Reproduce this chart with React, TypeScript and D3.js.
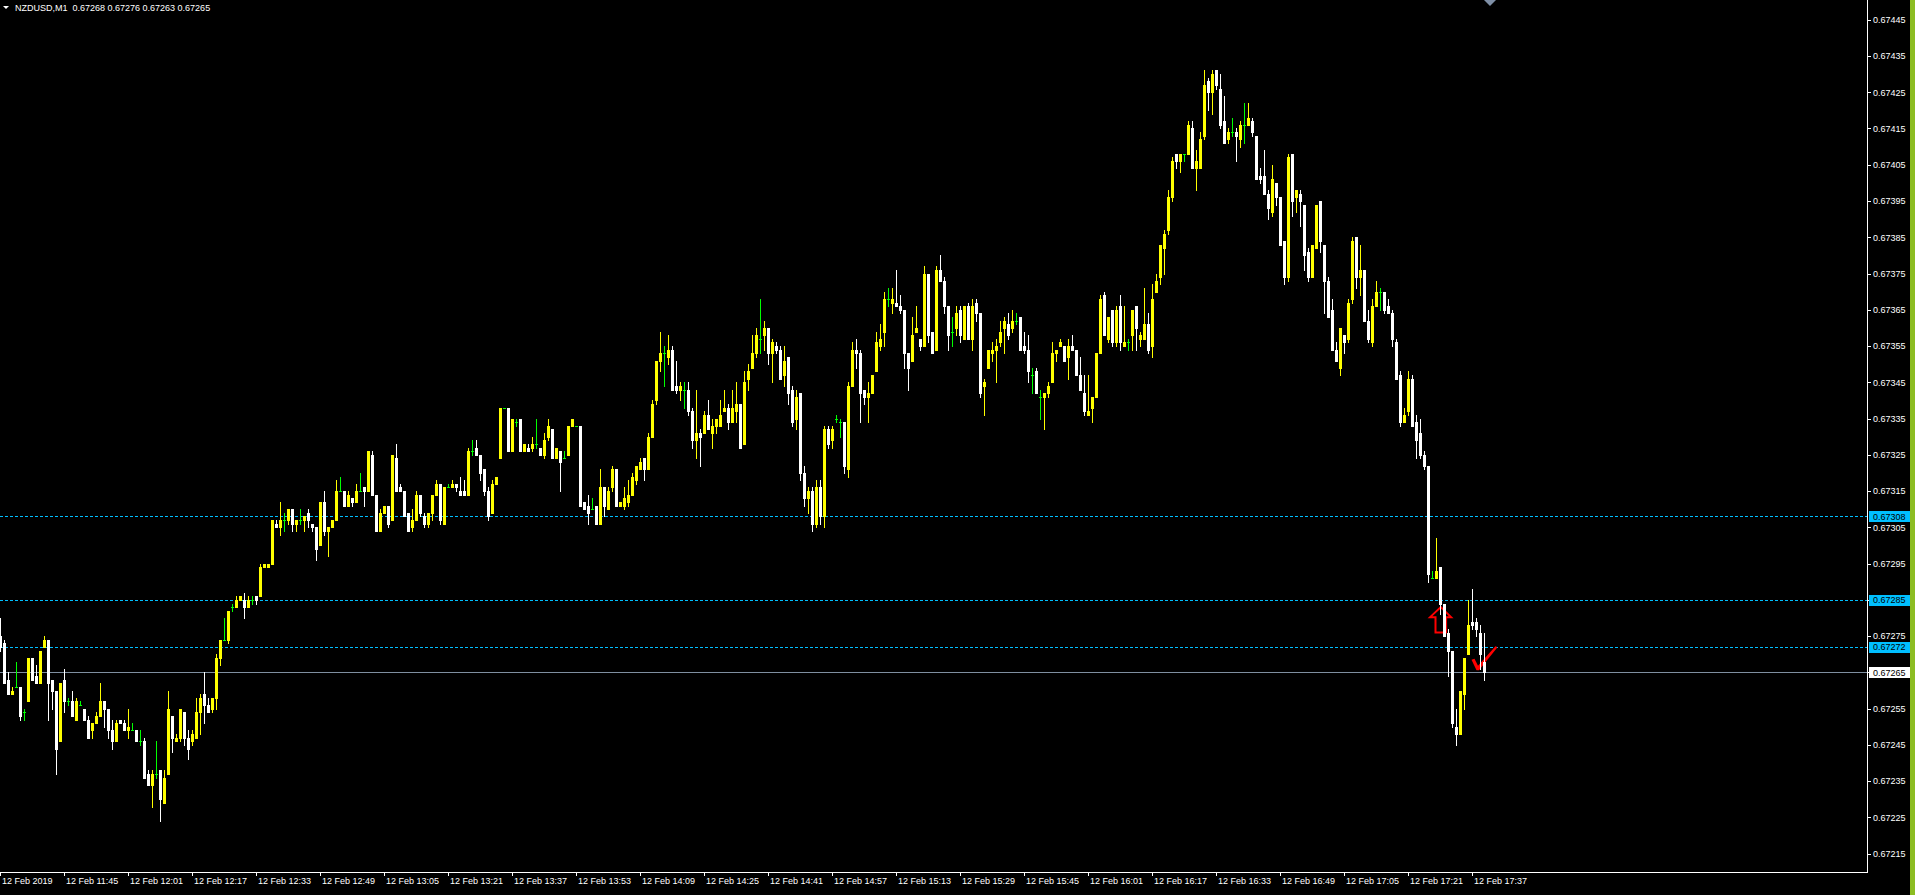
import React, { useEffect } from "react";
import * as d3 from "d3";

// ---------- data (prices in points, 1 point = 0.00001) ----------
const headerSymbol = "NZDUSD,M1";
const headerQuote = ["0.67268", "0.67276", "0.67263", "0.67265"];

// [open, high, low, close] for each M1 bar, 11:29 .. 17:40
const ohlc: [number, number, number, number][] = [
  [67275,67280,67271,67272],[67273,67274,67262,67262],[67263,67265,67259,67259],[67259,67261,67259,67260],
  [67261,67268,67261,67261],[67261,67261,67252,67253],[67254,67255,67252,67254],[67257,67269,67257,67269],
  [67269,67269,67263,67263],[67264,67267,67262,67262],[67262,67271,67262,67271],[67272,67275,67272,67274],
  [67274,67274,67252,67262],[67263,67263,67255,67260],[67260,67260,67237,67244],[67246,67262,67246,67262],
  [67263,67266,67254,67257],[67257,67258,67256,67257],[67257,67260,67253,67253],[67252,67258,67252,67257],
  [67256,67257,67256,67256],[67255,67255,67252,67252],[67252,67253,67247,67247],[67249,67251,67247,67251],
  [67251,67254,67251,67253],[67253,67262,67253,67257],[67257,67257,67250,67255],[67255,67255,67247,67249],
  [67249,67252,67244,67246],[67246,67252,67246,67251],[67252,67252,67251,67251],[67251,67252,67249,67249],
  [67249,67255,67247,67250],[67249,67251,67249,67249],[67249,67249,67246,67246],[67246,67249,67245,67246],
  [67246,67247,67236,67236],[67237,67238,67234,67234],[67234,67238,67228,67237],[67237,67246,67236,67237],
  [67238,67238,67224,67230],[67229,67238,67229,67236],[67237,67260,67237,67255],[67253,67253,67243,67247],
  [67246,67248,67246,67247],[67247,67255,67246,67255],[67254,67254,67245,67247],[67247,67249,67241,67244],
  [67246,67249,67245,67248],[67247,67258,67247,67254],[67254,67259,67248,67258],[67259,67265,67251,67256],
  [67256,67258,67254,67254],[67255,67258,67254,67258],[67258,67270,67255,67269],[67269,67274,67267,67274],
  [67274,67280,67274,67274],[67274,67282,67273,67282],[67283,67284,67282,67283],[67283,67286,67283,67285],
  [67285,67286,67285,67286],[67285,67287,67280,67283],[67283,67286,67283,67285],[67285,67286,67284,67285],
  [67286,67286,67284,67285],[67286,67295,67286,67294],[67294,67295,67294,67295],[67294,67295,67294,67295],
  [67295,67307,67295,67307],[67306,67307,67305,67305],[67305,67312,67303,67307],[67307,67309,67304,67307],
  [67307,67310,67306,67310],[67310,67310,67304,67306],[67306,67307,67304,67307],[67307,67310,67306,67307],
  [67307,67308,67304,67308],[67309,67310,67305,67307],[67306,67306,67304,67305],[67305,67305,67296,67299],
  [67300,67312,67300,67312],[67312,67315,67303,67304],[67304,67305,67297,67305],[67305,67307,67305,67307],
  [67307,67318,67307,67315],[67315,67319,67315,67315],[67315,67315,67311,67311],[67311,67315,67311,67314],
  [67313,67313,67311,67312],[67312,67317,67312,67315],[67315,67320,67315,67315],[67316,67316,67311,67315],
  [67315,67326,67315,67326],[67325,67326,67314,67314],[67314,67314,67304,67304],[67304,67310,67304,67309],
  [67309,67311,67309,67311],[67311,67311,67305,67306],[67307,67325,67307,67325],[67324,67328,67315,67315],
  [67316,67317,67315,67315],[67315,67315,67308,67308],[67309,67309,67304,67304],[67305,67310,67304,67307],
  [67307,67315,67307,67314],[67314,67314,67308,67309],[67308,67309,67305,67306],[67306,67309,67305,67309],
  [67309,67314,67307,67314],[67314,67318,67314,67317],[67317,67317,67306,67307],[67306,67316,67306,67316],
  [67316,67317,67316,67316],[67316,67318,67316,67317],[67317,67317,67315,67316],[67315,67319,67314,67314],
  [67315,67318,67314,67314],[67314,67327,67314,67326],[67326,67329,67325,67326],[67327,67329,67325,67325],
  [67325,67325,67318,67320],[67321,67321,67314,67315],[67315,67316,67307,67308],[67309,67318,67309,67317],
  [67317,67319,67317,67319],[67324,67338,67324,67338],[67338,67338,67338,67338],[67338,67338,67326,67326],
  [67326,67335,67326,67335],[67334,67335,67333,67334],[67335,67335,67326,67326],[67326,67328,67326,67328],
  [67327,67328,67326,67326],[67327,67330,67326,67328],[67328,67335,67327,67328],[67327,67327,67325,67325],
  [67325,67331,67324,67329],[67330,67335,67329,67333],[67332,67332,67324,67324],[67324,67327,67324,67327],
  [67326,67326,67315,67323],[67324,67326,67324,67324],[67325,67333,67325,67333],[67333,67335,67333,67335],
  [67333,67333,67333,67333],[67333,67333,67311,67311],[67312,67312,67310,67310],[67311,67314,67306,67309],
  [67310,67313,67310,67310],[67311,67311,67306,67306],[67306,67321,67306,67316],[67316,67316,67308,67311],
  [67310,67316,67310,67315],[67316,67322,67315,67321],[67321,67321,67311,67311],[67311,67312,67311,67312],
  [67311,67316,67310,67313],[67312,67318,67311,67314],[67314,67320,67314,67319],[67318,67322,67317,67322],
  [67321,67324,67321,67323],[67324,67324,67318,67321],[67321,67331,67321,67330],[67330,67340,67330,67339],
  [67340,67351,67339,67351],[67351,67359,67348,67353],[67353,67355,67344,67353],[67352,67358,67350,67354],
  [67354,67355,67343,67343],[67344,67351,67342,67343],[67343,67345,67340,67344],[67343,67345,67338,67343],
  [67343,67345,67336,67337],[67337,67338,67327,67329],[67329,67343,67324,67331],[67331,67332,67322,67330],
  [67331,67337,67331,67336],[67336,67340,67332,67332],[67331,67335,67327,67333],[67333,67335,67331,67335],
  [67333,67340,67333,67336],[67337,67343,67337,67338],[67338,67339,67332,67334],[67334,67343,67334,67338],
  [67337,67345,67334,67339],[67339,67339,67327,67327],[67328,67348,67328,67345],[67346,67350,67343,67348],
  [67349,67358,67349,67353],[67353,67360,67352,67358],[67357,67368,67353,67357],[67358,67362,67354,67360],
  [67360,67360,67350,67353],[67353,67357,67345,67356],[67355,67356,67353,67354],[67354,67355,67346,67346],
  [67347,67355,67344,67351],[67352,67352,67339,67342],[67343,67344,67333,67334],[67335,67343,67332,67341],
  [67342,67342,67318,67320],[67320,67322,67311,67313],[67313,67316,67309,67315],[67315,67316,67304,67306],
  [67306,67318,67305,67316],[67316,67318,67306,67308],[67308,67333,67305,67332],[67332,67333,67327,67328],
  [67329,67333,67327,67332],[67335,67336,67334,67335],[67334,67335,67330,67334],[67334,67334,67320,67322],
  [67321,67345,67319,67344],[67344,67356,67344,67354],[67354,67357,67349,67353],[67353,67354,67334,67342],
  [67343,67343,67339,67341],[67341,67345,67334,67342],[67342,67347,67342,67347],[67348,67359,67348,67356],
  [67355,67361,67354,67357],[67359,67370,67355,67368],[67368,67371,67366,67368],[67367,67371,67364,67368],
  [67367,67376,67366,67366],[67366,67369,67364,67365],[67365,67365,67349,67353],[67353,67353,67343,67349],
  [67351,67363,67351,67358],[67359,67366,67359,67360],[67357,67357,67354,67355],[67355,67377,67355,67375],
  [67375,67375,67356,67358],[67359,67359,67353,67353],[67354,67377,67354,67376],[67376,67380,67373,67373],
  [67373,67374,67364,67366],[67366,67366,67354,67358],[67359,67363,67355,67359],[67360,67366,67358,67364],
  [67365,67366,67356,67358],[67357,67366,67357,67366],[67366,67367,67357,67357],[67357,67368,67354,67366],
  [67367,67368,67362,67364],[67364,67364,67341,67342],[67344,67346,67336,67345],[67349,67354,67349,67354],
  [67353,67356,67351,67354],[67354,67357,67345,67355],[67356,67362,67355,67359],[67360,67363,67353,67362],
  [67361,67364,67357,67358],[67360,67365,67359,67362],[67362,67364,67361,67362],[67363,67363,67354,67354],
  [67355,67359,67353,67354],[67354,67358,67345,67348],[67347,67349,67342,67347],[67348,67349,67342,67342],
  [67341,67343,67335,67341],[67341,67342,67332,67342],[67342,67345,67341,67344],[67345,67356,67345,67353],
  [67353,67354,67351,67354],[67355,67357,67355,67356],[67355,67355,67351,67351],[67352,67357,67346,67355],
  [67355,67358,67354,67354],[67354,67354,67347,67347],[67347,67352,67343,67343],[67342,67347,67336,67337],
  [67336,67347,67336,67337],[67338,67341,67334,67341],[67341,67353,67341,67353],[67353,67369,67353,67368],
  [67369,67370,67358,67358],[67357,67363,67356,67363],[67365,67365,67355,67356],[67356,67366,67355,67365],
  [67366,67369,67354,67356],[67355,67366,67355,67356],[67356,67357,67354,67356],[67358,67365,67354,67365],
  [67366,67366,67354,67360],[67357,67359,67355,67358],[67357,67371,67357,67361],[67361,67364,67353,67354],
  [67355,67372,67352,67368],[67370,67375,67370,67373],[67374,67383,67372,67383],[67382,67387,67375,67386],
  [67387,67398,67386,67396],[67396,67407,67395,67406],[67408,67408,67404,67406],[67406,67408,67403,67408],
  [67408,67408,67406,67408],[67408,67417,67408,67416],[67415,67417,67404,67404],[67404,67409,67398,67406],
  [67404,67414,67404,67412],[67413,67431,67412,67427],[67428,67429,67420,67425],[67425,67431,67419,67430],
  [67431,67431,67426,67427],[67426,67430,67415,67416],[67417,67424,67411,67411],[67412,67415,67411,67414],
  [67414,67418,67413,67414],[67414,67415,67406,67413],[67412,67417,67410,67416],[67416,67422,67411,67416],
  [67416,67422,67416,67418],[67417,67418,67413,67414],[67413,67413,67401,67401],[67402,67404,67400,67401],
  [67402,67409,67397,67397],[67397,67398,67390,67393],[67392,67405,67391,67401],[67400,67400,67394,67396],
  [67396,67396,67383,67383],[67384,67384,67372,67374],[67374,67408,67373,67407],[67408,67408,67391,67395],
  [67396,67398,67392,67398],[67397,67398,67388,67395],[67394,67394,67376,67380],[67381,67382,67373,67374],
  [67374,67383,67374,67383],[67382,67394,67382,67394],[67395,67395,67381,67384],[67383,67383,67364,67373],
  [67373,67374,67363,67363],[67365,67368,67354,67354],[67354,67356,67351,67351],[67349,67360,67347,67360],
  [67358,67358,67353,67356],[67357,67368,67356,67367],[67368,67385,67367,67384],[67385,67385,67371,67374],
  [67374,67383,67369,67376],[67376,67376,67362,67362],[67362,67365,67356,67357],[67356,67368,67355,67366],
  [67366,67373,67366,67370],[67370,67371,67365,67370],[67370,67370,67364,67365],[67366,67368,67364,67364],
  [67364,67365,67355,67357],[67356,67357,67346,67346],[67347,67348,67333,67334],[67334,67338,67334,67336],
  [67337,67348,67336,67346],[67346,67347,67333,67333],[67334,67336,67324,67329],[67331,67335,67324,67325],
  [67325,67326,67321,67322],[67322,67322,67290,67292],[67291,67293,67291,67291],[67291,67302,67291,67293],
  [67294,67294,67281,67284],[67284,67284,67275,67275],[67276,67277,67264,67271],[67271,67271,67250,67251],
  [67250,67255,67245,67248],[67248,67260,67248,67260],[67259,67269,67255,67269],[67270,67285,67270,67278],
  [67279,67288,67277,67278],[67279,67280,67275,67277],[67276,67278,67266,67270],[67268,67276,67263,67265],
];

const priceTicks = [
  0.67445, 0.67435, 0.67425, 0.67415, 0.67405, 0.67395, 0.67385, 0.67375,
  0.67365, 0.67355, 0.67345, 0.67335, 0.67325, 0.67315, 0.67305, 0.67295,
  0.67285, 0.67275, 0.67265, 0.67255, 0.67245, 0.67235, 0.67225, 0.67215,
];

const timeLabels = [
  "12 Feb 2019", "12 Feb 11:45", "12 Feb 12:01", "12 Feb 12:17", "12 Feb 12:33", "12 Feb 12:49",
  "12 Feb 13:05", "12 Feb 13:21", "12 Feb 13:37", "12 Feb 13:53", "12 Feb 14:09", "12 Feb 14:25",
  "12 Feb 14:41", "12 Feb 14:57", "12 Feb 15:13", "12 Feb 15:29", "12 Feb 15:45", "12 Feb 16:01",
  "12 Feb 16:17", "12 Feb 16:33", "12 Feb 16:49", "12 Feb 17:05", "12 Feb 17:21", "12 Feb 17:37",
];
const barsPerLabel = 16;

const levelLines = [0.67308, 0.67285, 0.67272];
const bidPrice = 0.67265;

const buyArrow = { bar: 360.2, price: 0.67283 };
const closeMark = { bar: 369.5, price: 0.672657 };

// ---------- layout ----------
const W = 1915;
const H = 895;
const plotRight = 1867;
const plotBottom = 872;
const FONT = "'Liberation Sans', Arial, sans-serif";

const YELLOW = "#ffff00";
const WHITE = "#ffffff";
const GREEN = "#00ff00";
const LEVEL = "#00bfff";
const BID = "#7f8fa0";

export default function App() {
  useEffect(() => {
    document.body.style.margin = "0";
    document.body.style.background = "#000";
  }, []);

  const y = d3.scaleLinear().domain([0.67445, 0.67215]).range([19.7, 853.7]);
  const x = d3.scaleLinear().domain([0, ohlc.length - 1]).range([0, (ohlc.length - 1) * 4]);
  const fmt = d3.format(".5f");

  const candles = ohlc.map((b, i) => {
    const [o, h0, l0, c] = b.map((v) => v / 1e5);
    const h = Math.max(h0, o, c);
    const l = Math.min(l0, o, c);
    const cx = Math.round(x(i));
    const color = c > o ? YELLOW : c < o ? WHITE : GREEN;
    const yh = Math.round(y(h));
    const yl = Math.round(y(l));
    const top = Math.round(y(Math.max(o, c)));
    const bot = Math.round(y(Math.min(o, c)));
    return (
      <g key={i} fill={color}>
        <rect x={cx} y={yh} width={1} height={Math.max(1, yl - yh + 1)} />
        {c === o ? (
          <rect x={cx - 1} y={top} width={3} height={1} />
        ) : (
          <rect x={cx - 1} y={top} width={3} height={Math.max(1, bot - top + 1)} />
        )}
      </g>
    );
  });

  const ax = x(buyArrow.bar);
  const ay = y(buyArrow.price);
  const arrowPts = [
    [-5.3, 25.4], [-5.3, 10], [-10.7, 10], [0, 0], [10.3, 10], [5.3, 10], [5.3, 25.4],
  ].map(([dx, dy]) => `${ax + dx},${ay + dy}`).join(" ");

  const kx = x(closeMark.bar);
  const ky = y(closeMark.price);
  const checkPts = [
    [-6.5, -10], [-3.5, -11], [0, -4], [17.5, -23.5], [19.5, -22.5], [1, 0.5], [-1.5, 0.5],
  ].map(([dx, dy]) => `${kx + dx},${ky + dy}`).join(" ");

  const boxLabel = (p: number, fill: string, key: string) => {
    const yy = y(p);
    return (
      <g key={key}>
        <rect x={1869} y={Math.round(yy) - 5} width={41} height={11} fill={fill} />
        <text x={1873} y={yy + 3.3} fill="#000" fontSize={9} fontFamily={FONT}>
          {fmt(p)}
        </text>
      </g>
    );
  };

  return (
    <svg
      width={W}
      height={H}
      style={{ position: "absolute", left: 0, top: 0, background: "#000", display: "block" }}
    >
      <rect x={0} y={0} width={W} height={H} fill="#000" />

      {/* level lines */}
      {levelLines.map((p) => (
        <line
          key={p}
          x1={0}
          x2={plotRight}
          y1={Math.round(y(p)) + 0.5}
          y2={Math.round(y(p)) + 0.5}
          stroke={LEVEL}
          strokeWidth={1}
          strokeDasharray="3,2"
        />
      ))}
      <line
        x1={0}
        x2={plotRight}
        y1={Math.round(y(bidPrice)) + 0.5}
        y2={Math.round(y(bidPrice)) + 0.5}
        stroke={BID}
        strokeWidth={1}
      />

      {/* trade marks */}
      <polygon points={arrowPts} fill="none" stroke="#ff0000" strokeWidth={2} />
      <polygon points={checkPts} fill="#ff0000" />

      {/* candles */}
      <g shapeRendering="crispEdges">{candles}</g>

      {/* chart shift marker */}
      <polygon points="1484,0 1496,0 1490,6" fill="#7f8fa6" />

      {/* frame */}
      <g shapeRendering="crispEdges" stroke="#ffffff" strokeWidth={1}>
        <line x1={plotRight + 0.5} x2={plotRight + 0.5} y1={0} y2={plotBottom + 1} />
        <line x1={0} x2={plotRight + 1} y1={plotBottom + 0.5} y2={plotBottom + 0.5} />
      </g>

      {/* price axis */}
      {priceTicks.map((p) => (
        <g key={p}>
          <line
            x1={plotRight}
            x2={plotRight + 4}
            y1={Math.round(y(p)) + 0.5}
            y2={Math.round(y(p)) + 0.5}
            stroke="#fff"
            strokeWidth={1}
          />
          <text x={1873} y={y(p) + 3.3} fill="#fff" fontSize={9} fontFamily={FONT}>
            {fmt(p)}
          </text>
        </g>
      ))}
      {levelLines.map((p) => boxLabel(p, LEVEL, "lv" + p))}
      {boxLabel(bidPrice, "#ffffff", "bid")}

      {/* time axis */}
      {timeLabels.map((t, k) => {
        const xx = Math.round(x(k * barsPerLabel));
        return (
          <g key={t}>
            <line x1={xx + 0.5} x2={xx + 0.5} y1={plotBottom} y2={plotBottom + 4} stroke="#fff" />
            <text x={xx + 2} y={884} fill="#fff" fontSize={9} fontFamily={FONT}>
              {t}
            </text>
          </g>
        );
      })}

      {/* header */}
      <polygon points="3,6 9,6 6,9" fill="#fff" />
      <text x={15} y={10.5} fill="#fff" fontSize={9} fontFamily={FONT} style={{ whiteSpace: "pre" }}>
        {headerSymbol + "  " + headerQuote.join(" ")}
      </text>

      {/* right edge strip */}
      <rect x={1910} y={0} width={5} height={H} fill="#8cbd22" />
    </svg>
  );
}
